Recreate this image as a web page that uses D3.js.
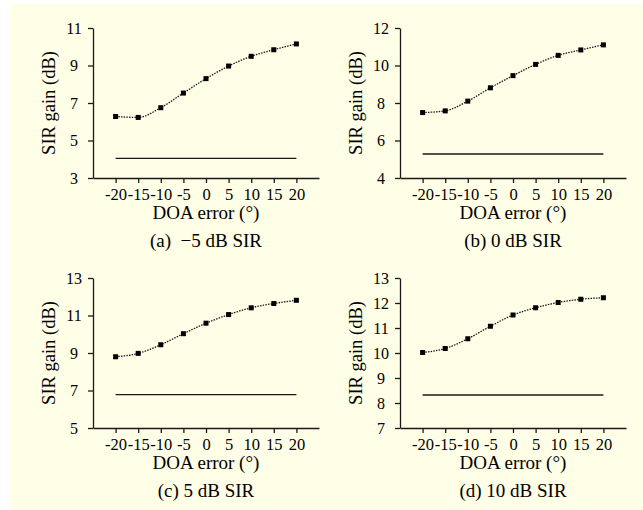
<!DOCTYPE html>
<html>
<head>
<meta charset="utf-8">
<script src="https://cdn.jsdelivr.net/npm/d3@7"></script>
<style>
  body { margin: 0; background: #ffffff; }
  svg { display: block; }
  text { font-family: "Liberation Serif", "Times New Roman", serif; fill: #000; }
</style>
</head>
<body>
<div id="chart"></div>
<script>
// Chart size
var svgWidth = 643;
var svgHeight = 510;

// Data: DOA error on x, SIR gain on y
var doaError = [-20, -15, -10, -5, 0, 5, 10, 15, 20];
var xTicks = [-20, -15, -10, -5, 0, 5, 10, 15, 20];

var gainA = [6.28, 6.23, 6.75, 7.53, 8.3, 8.97, 9.49, 9.84, 10.15];
var gainB = [7.49, 7.58, 8.1, 8.81, 9.46, 10.06, 10.54, 10.83, 11.1];
var gainC = [8.8, 8.98, 9.44, 10.03, 10.59, 11.05, 11.41, 11.64, 11.81];
var gainD = [10.02, 10.18, 10.57, 11.07, 11.52, 11.81, 12.02, 12.15, 12.21];

// Baseline gain (flat line)
var baseA = 4.05;
var baseB = 5.28;
var baseC = 6.78;
var baseD = 8.32;

var ticksA = [3, 5, 7, 9, 11];
var ticksB = [4, 6, 8, 10, 12];
var ticksC = [5, 7, 9, 11, 13];
var ticksD = [7, 8, 9, 10, 11, 12, 13];

var captions = ["(a)\u00a0 \u22125 dB SIR", "(b) 0 dB SIR", "(c) 5 dB SIR", "(d) 10 dB SIR"];

var panels = [
  { gain: gainA, base: baseA, ticks: ticksA, caption: captions[0], left: 93, top: 28 },
  { gain: gainB, base: baseB, ticks: ticksB, caption: captions[1], left: 400, top: 28 },
  { gain: gainC, base: baseC, ticks: ticksC, caption: captions[2], left: 93, top: 278 },
  { gain: gainD, base: baseD, ticks: ticksD, caption: captions[3], left: 400, top: 278 }
];

var plotWidth = 226;
var plotHeight = 150;
var ink = "#1a1a1a";

var svg = d3.select("#chart")
  .append("svg")
  .attr("width", svgWidth)
  .attr("height", svgHeight);

// pale yellow page
svg.append("rect")
  .attr("x", 10)
  .attr("y", 4)
  .attr("width", svgWidth - 10)
  .attr("height", svgHeight - 4)
  .attr("fill", "#fffee6");

panels.forEach(function(p) {
  var g = svg.append("g").attr("transform", `translate(${p.left},${p.top})`);

  var x = d3.scaleLinear().domain([-25, 25]).range([0, plotWidth]);
  var y = d3.scaleLinear()
    .domain([p.ticks[0], p.ticks[p.ticks.length - 1]])
    .range([plotHeight, 0]);

  // x axis
  var xAxis = g.append("g")
    .attr("transform", `translate(0,${plotHeight})`)
    .call(d3.axisBottom(x).tickValues(xTicks).tickSize(5).tickPadding(5).tickSizeOuter(0));
  xAxis.select(".domain").attr("stroke", ink).attr("stroke-width", 1.3);
  xAxis.selectAll(".tick line").attr("stroke", ink).attr("stroke-width", 1.3);
  xAxis.selectAll(".tick text")
    .style("font-size", "16.5px")
    .style("font-family", "Liberation Serif, serif")
    .attr("fill", "#000")
    .text(d => d < 0 ? "-" + Math.abs(d) : d);

  // y axis, labels centred left of the ticks
  var yAxis = g.append("g")
    .call(d3.axisLeft(y).tickValues(p.ticks).tickFormat(d3.format("d")).tickSize(5).tickSizeOuter(0));
  yAxis.select(".domain").attr("stroke", ink).attr("stroke-width", 1.3);
  yAxis.selectAll(".tick line").attr("stroke", ink).attr("stroke-width", 1.3);
  yAxis.selectAll(".tick text")
    .attr("x", -19)
    .attr("text-anchor", "middle")
    .style("font-size", "16px")
    .style("font-family", "Liberation Serif, serif")
    .attr("fill", "#000");

  // flat baseline
  g.append("line")
    .attr("x1", x(doaError[0]))
    .attr("x2", x(doaError[doaError.length - 1]))
    .attr("y1", y(p.base))
    .attr("y2", y(p.base))
    .attr("stroke", ink)
    .attr("stroke-width", 1.3);

  // dotted curve
  var line = d3.line()
    .x((d, i) => x(doaError[i]))
    .y(d => y(d))
    .curve(d3.curveMonotoneX);

  g.append("path")
    .datum(p.gain)
    .attr("d", line)
    .attr("fill", "none")
    .attr("stroke", ink)
    .attr("stroke-width", 1.3)
    .attr("stroke-dasharray", "1.5,1.2");

  g.selectAll("rect.mark")
    .data(p.gain)
    .enter()
    .append("rect")
    .attr("class", "mark")
    .attr("x", (d, i) => x(doaError[i]) - 2.5)
    .attr("y", d => y(d) - 2.5)
    .attr("width", 5)
    .attr("height", 5)
    .attr("fill", "#000");

  // axis titles
  g.append("text")
    .attr("transform", `translate(-38,${plotHeight / 2}) rotate(-90)`)
    .attr("text-anchor", "middle")
    .style("font-size", "18.5px")
    .text("SIR gain (dB)");

  g.append("text")
    .attr("x", plotWidth / 2)
    .attr("y", plotHeight + 41)
    .attr("text-anchor", "middle")
    .style("font-size", "19px")
    .text("DOA error (\u00b0)");

  g.append("text")
    .attr("x", plotWidth / 2)
    .attr("y", plotHeight + 69)
    .attr("text-anchor", "middle")
    .style("font-size", "19px")
    .text(p.caption);
});
</script>
</body>
</html>
